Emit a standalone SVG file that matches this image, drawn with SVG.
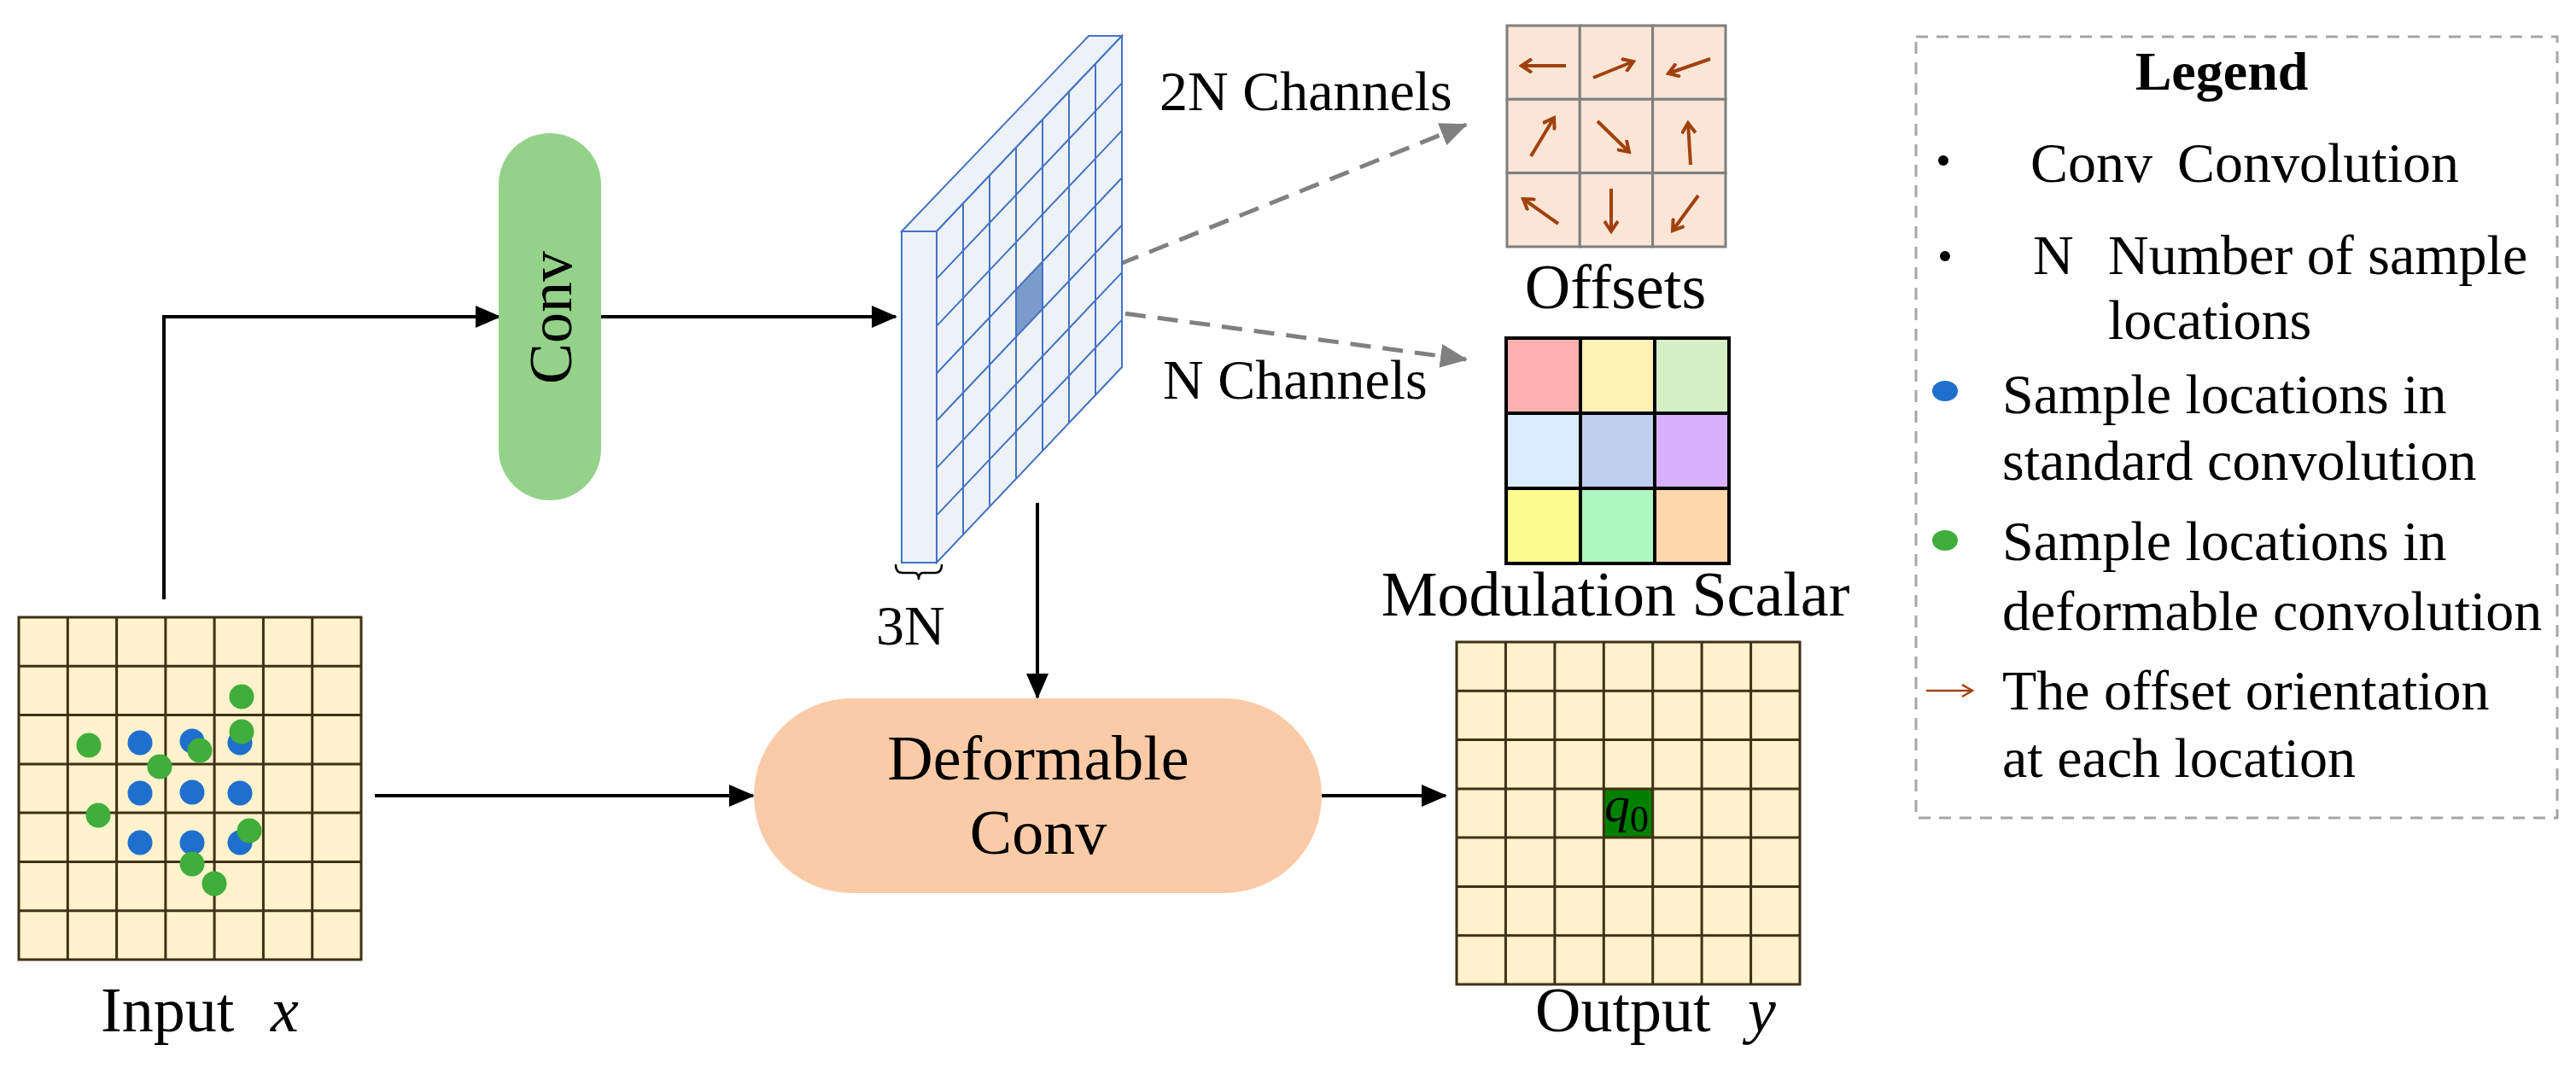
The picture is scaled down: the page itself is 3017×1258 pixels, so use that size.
<svg xmlns="http://www.w3.org/2000/svg" width="3017" height="1258" viewBox="0 0 3017 1258">
<style>
.t{font-family:"Liberation Serif","Times New Roman",serif;fill:#000}
.grid{fill:#fff2cc;stroke:#3f3115;stroke-width:3}
.gl{stroke:#3f3115;stroke-width:3}
.fm{fill:#edf2f9;stroke:#4472c4;stroke-width:2}
.fl{stroke:#4472c4;stroke-width:2}
.oc{fill:#fbe5d6;stroke:#7f7f7f;stroke-width:3}
.oa{stroke:#a0410d;stroke-width:4;fill:none;marker-end:url(#oh)}
.ms{stroke:#000;stroke-width:4}
.con{stroke:#000;stroke-width:4;fill:none;marker-end:url(#ah)}
.dash{stroke:#808080;stroke-width:5;stroke-dasharray:24 14;fill:none;marker-end:url(#gh)}
.blue{fill:#1f6fce}
.green{fill:#3fae3a}
</style>
<defs>
<marker id="ah" markerUnits="userSpaceOnUse" markerWidth="30" markerHeight="26" refX="28" refY="13" orient="auto"><path d="M0,0 L30,13 L0,26 Z" fill="#000"/></marker>
<marker id="gh" markerUnits="userSpaceOnUse" markerWidth="32" markerHeight="28" refX="30" refY="14" orient="auto"><path d="M0,0 L32,14 L0,28 Z" fill="#808080"/></marker>
<marker id="oh" markerUnits="userSpaceOnUse" markerWidth="16" markerHeight="18" refX="13" refY="9" orient="auto"><path d="M1,1 L13,9 L1,17" fill="none" stroke="#a0410d" stroke-width="4"/></marker>
</defs>

<g id="connectors">
<polyline class="con" points="192,702 192,371 585,371"/>
<line class="con" x1="704" y1="371" x2="1049" y2="371"/>
<line class="con" x1="1215" y1="589" x2="1215" y2="817"/>
<line class="con" x1="439" y1="932" x2="882" y2="932"/>
<line class="con" x1="1548" y1="932" x2="1693" y2="932"/>
<polyline class="dash" points="1205,352 1717,146"/>
<polyline class="dash" points="1205,352 1717,421"/>
</g>

<g id="input">
<rect class="grid" x="22" y="723" width="401" height="401"/>
<path class="gl" d="M79.3,723V1124M136.6,723V1124M193.9,723V1124M251.1,723V1124M308.4,723V1124M365.7,723V1124M22,780.3H423M22,837.6H423M22,894.9H423M22,952.1H423M22,1009.4H423M22,1066.7H423"/>
<circle class="blue" cx="164" cy="870" r="14.5"/>
<circle class="blue" cx="225" cy="868" r="14.5"/>
<circle class="blue" cx="281" cy="870" r="14.5"/>
<circle class="blue" cx="164" cy="929" r="14.5"/>
<circle class="blue" cx="225" cy="928" r="14.5"/>
<circle class="blue" cx="281" cy="929" r="14.5"/>
<circle class="blue" cx="164" cy="987" r="14.5"/>
<circle class="blue" cx="225" cy="987" r="14.5"/>
<circle class="blue" cx="281" cy="987" r="14.5"/>
<circle class="green" cx="283" cy="816" r="14.5"/>
<circle class="green" cx="104" cy="873" r="14.5"/>
<circle class="green" cx="283" cy="857" r="14.5"/>
<circle class="green" cx="234" cy="879" r="14.5"/>
<circle class="green" cx="187" cy="898" r="14.5"/>
<circle class="green" cx="115" cy="955" r="14.5"/>
<circle class="green" cx="292" cy="973" r="14.5"/>
<circle class="green" cx="225" cy="1012" r="14.5"/>
<circle class="green" cx="251" cy="1035" r="14.5"/>
<text class="t" x="118" y="1208" font-size="74">Input</text>
<text class="t" x="317" y="1208" font-size="74" font-style="italic">x</text>
</g>

<g id="conv">
<rect x="584" y="156" width="120" height="430" rx="60" fill="#94d28a"/>
<text class="t" font-size="72" text-anchor="middle" transform="translate(669,372) rotate(-90)">Conv</text>
</g>

<g id="featuremap">
<polygon class="fm" points="1056,271 1097,271 1314,42 1275,42"/>
<polygon class="fm" points="1097,271 1314,42 1314,430 1097,659"/>
<rect class="fm" x="1056" y="271" width="41" height="388"/>
<polygon points="1190,339.1 1221,306.4 1221,361.8 1190,394.6" fill="#7b9bcb"/>
<path class="fl" d="M1128,238.3V626.3M1159,205.6V593.6M1190,172.9V560.9M1221,140.1V528.1M1252,107.4V495.4M1283,74.7V462.7M1097,326.4L1314,97.4M1097,381.9L1314,152.9M1097,437.3L1314,208.3M1097,492.7L1314,263.7M1097,548.1L1314,319.1M1097,603.6L1314,374.6"/>
<path d="M1049,661 q0,10 8,10 h14 q5,0 5,8 q0,-8 5,-8 h14 q8,0 8,-10" fill="none" stroke="#000" stroke-width="2.5"/>
<text class="t" x="1026" y="755" font-size="66">3N</text>
<text class="t" x="1358" y="129" font-size="66">2N Channels</text>
<text class="t" x="1362" y="467" font-size="66">N Channels</text>
</g>

<g id="offsets">
<rect class="oc" x="1765" y="30" width="85.3" height="86.3"/>
<rect class="oc" x="1850.3" y="30" width="85.3" height="86.3"/>
<rect class="oc" x="1935.6" y="30" width="85.4" height="86.3"/>
<rect class="oc" x="1765" y="116.3" width="85.3" height="86.3"/>
<rect class="oc" x="1850.3" y="116.3" width="85.3" height="86.3"/>
<rect class="oc" x="1935.6" y="116.3" width="85.4" height="86.3"/>
<rect class="oc" x="1765" y="202.6" width="85.3" height="86.4"/>
<rect class="oc" x="1850.3" y="202.6" width="85.3" height="86.4"/>
<rect class="oc" x="1935.6" y="202.6" width="85.4" height="86.4"/>
<line class="oa" x1="1834" y1="77" x2="1782" y2="77"/>
<line class="oa" x1="1866" y1="91" x2="1913" y2="72"/>
<line class="oa" x1="2003" y1="69" x2="1954" y2="86"/>
<line class="oa" x1="1793" y1="183" x2="1820" y2="138"/>
<line class="oa" x1="1871" y1="142" x2="1908" y2="178"/>
<line class="oa" x1="1980" y1="193" x2="1977" y2="144"/>
<line class="oa" x1="1825" y1="262" x2="1784" y2="233"/>
<line class="oa" x1="1887" y1="221" x2="1887" y2="271"/>
<line class="oa" x1="1989" y1="229" x2="1959" y2="270"/>
<text class="t" x="1892" y="361" font-size="74" text-anchor="middle">Offsets</text>
</g>

<g id="modulation">
<rect x="1764" y="396" width="87" height="88" fill="#ffb1b1"/>
<rect x="1851" y="396" width="87" height="88" fill="#fff0b3"/>
<rect x="1938" y="396" width="87" height="88" fill="#d4efc6"/>
<rect x="1764" y="484" width="87" height="88" fill="#d8ecfd"/>
<rect x="1851" y="484" width="87" height="88" fill="#c0cfed"/>
<rect x="1938" y="484" width="87" height="88" fill="#d7b1fd"/>
<rect x="1764" y="572" width="87" height="88" fill="#fcfc8f"/>
<rect x="1851" y="572" width="87" height="88" fill="#adf7c1"/>
<rect x="1938" y="572" width="87" height="88" fill="#fed6ac"/>
<rect x="1764" y="396" width="261" height="264" fill="none" stroke="#000" stroke-width="4"/>
<path class="ms" d="M1851,396V660M1938,396V660M1764,484H2025M1764,572H2025"/>
<text class="t" x="1892" y="721" font-size="74" text-anchor="middle">Modulation Scalar</text>
</g>

<g id="deformable">
<rect x="883" y="818" width="665" height="228" rx="114" fill="#fbcba8"/>
<text class="t" x="1216" y="913" font-size="74" text-anchor="middle">Deformable</text>
<text class="t" x="1216" y="1000" font-size="74" text-anchor="middle">Conv</text>
</g>

<g id="output">
<rect class="grid" x="1706" y="752" width="402" height="401"/>
<rect x="1878.3" y="923.9" width="57.4" height="57.2" fill="#008000"/>
<path class="gl" d="M1763.4,752V1153M1820.9,752V1153M1878.3,752V1153M1935.7,752V1153M1993.1,752V1153M2050.6,752V1153M1706,809.3H2108M1706,866.6H2108M1706,923.9H2108M1706,981.1H2108M1706,1038.4H2108M1706,1095.7H2108"/>
<text class="t" x="1879" y="962" font-size="60" font-style="italic">q<tspan font-style="normal" font-size="44" dy="12">0</tspan></text>
<text class="t" x="1798" y="1208" font-size="74">Output</text>
<text class="t" x="2047" y="1208" font-size="74" font-style="italic">y</text>
</g>

<g id="legend">
<rect x="2244" y="43" width="751" height="915" fill="none" stroke="#a6a6a6" stroke-width="3" stroke-dasharray="14 10"/>
<text class="t" x="2602" y="105" font-size="64" font-weight="bold" text-anchor="middle">Legend</text>
<circle cx="2276" cy="188" r="6" fill="#000"/>
<text class="t" x="2378" y="213" font-size="66">Conv</text>
<text class="t" x="2550" y="213" font-size="66">Convolution</text>
<circle cx="2278" cy="300" r="6" fill="#000"/>
<text class="t" x="2381" y="321" font-size="66">N</text>
<text class="t" x="2469" y="321" font-size="66">Number of sample</text>
<text class="t" x="2469" y="397" font-size="66">locations</text>
<ellipse class="blue" cx="2278" cy="458" rx="15" ry="12"/>
<text class="t" x="2345" y="484" font-size="66">Sample locations in</text>
<text class="t" x="2345" y="562" font-size="66">standard convolution</text>
<ellipse class="green" cx="2278" cy="633" rx="15" ry="12"/>
<text class="t" x="2345" y="656" font-size="66">Sample locations in</text>
<text class="t" x="2345" y="738" font-size="66">deformable convolution</text>
<line x1="2256" y1="809" x2="2308" y2="809" stroke="#a0410d" stroke-width="2.5"/>
<path d="M2298,802 L2310,809 L2298,816" fill="none" stroke="#a0410d" stroke-width="2.5"/>
<text class="t" x="2345" y="831" font-size="66">The offset orientation</text>
<text class="t" x="2345" y="910" font-size="66">at each location</text>
</g>
</svg>
